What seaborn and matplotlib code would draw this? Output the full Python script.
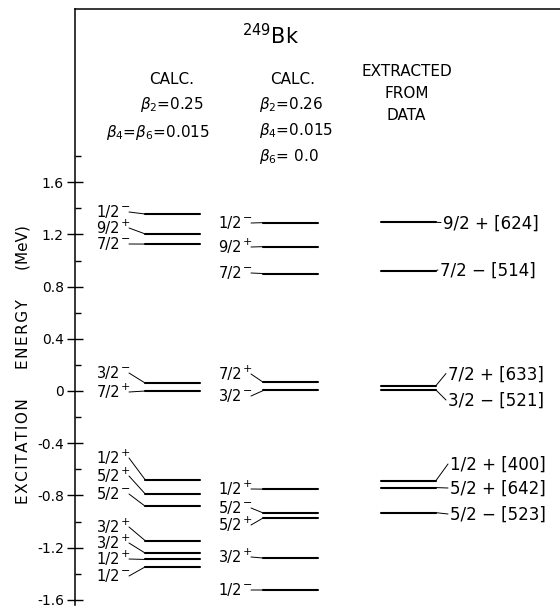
import numpy as np
import pandas as pd
import matplotlib
matplotlib.use("Agg")
import matplotlib.pyplot as plt
import seaborn as sns

# ---------------- data ----------------
# Column 1: CALC. beta2=0.25, beta4=beta6=0.015
calc1_spin = ["1/2", "9/2", "7/2", "3/2", "7/2", "1/2", "5/2", "5/2", "3/2", "3/2", "1/2", "1/2"]
calc1_parity = ["-", "+", "-", "-", "+", "+", "+", "-", "+", "+", "+", "-"]
calc1_energy = [1.356, 1.203, 1.126, 0.060, 0.0, -0.682, -0.790, -0.884, -1.148, -1.243, -1.291, -1.347]

# Column 2: CALC. beta2=0.26, beta4=0.015, beta6=0.0
calc2_spin = ["1/2", "9/2", "7/2", "7/2", "3/2", "1/2", "5/2", "5/2", "3/2", "1/2"]
calc2_parity = ["-", "+", "-", "+", "-", "+", "-", "+", "+", "-"]
calc2_energy = [1.290, 1.106, 0.900, 0.066, 0.004, -0.752, -0.935, -0.972, -1.280, -1.525]

# Column 3: extracted from data
exp_labels = ["9/2 + [624]", "7/2 \u2212 [514]", "7/2 + [633]", "3/2 \u2212 [521]",
              "1/2 + [400]", "5/2 + [642]", "5/2 \u2212 [523]"]
exp_energy = [1.293, 0.922, 0.038, 0.010, -0.690, -0.740, -0.932]

ytick_values = [-1.6, -1.2, -0.8, -0.4, 0.0, 0.4, 0.8, 1.2, 1.6]
ytick_labels = ["-1.6", "-1.2", "-0.8", "-0.4", "0", "0.4", "0.8", "1.2", "1.6"]
yminor_values = [-1.4, -1.0, -0.6, -0.2, 0.2, 0.6, 1.0, 1.4, 1.8]

# ---------------- layout (label placement, in pixels from top) ----------------
calc1_label_px = [212, 228, 244, 373, 392, 458, 476, 494, 527, 543, 559, 576]
calc2_label_px = [223, 247, 273, 374, 396, 489, 508, 525, 557, 590]
exp_label_py = [222.5, 270, 373.5, 400, 464, 488, 514]
exp_label_px = [443, 440, 448, 448, 450, 450, 450]

sns.set_style("ticks")
plt.rcParams["font.family"] = ["DejaVu Sans"]
plt.rcParams["mathtext.fontset"] = "dejavusans"
for k in ["text.color", "axes.labelcolor", "xtick.color", "ytick.color", "axes.edgecolor"]:
    plt.rcParams[k] = "black"

W, H = 560, 614
fig = plt.figure(figsize=(W / 100, H / 100), dpi=100)
ax = fig.add_axes([75 / W, 9 / H, 485 / W, (605 - 8.5) / H])


def px_x(p):
    return (p - 172.5) / 118.0


def px_e(p):
    return (391.0 - p) / 130.5


hw = 0.23  # half width of a level line (column units)

rows = []
lid = 0
for col, energies in enumerate([calc1_energy, calc2_energy, exp_energy]):
    for e in energies:
        rows.append({"x": col - hw, "E": e, "id": lid})
        rows.append({"x": col + hw, "E": e, "id": lid})
        lid += 1
df = pd.DataFrame(rows)

sns.lineplot(data=df, x="x", y="E", units="id", estimator=None, sort=False,
             color="black", linewidth=1.5, ax=ax, legend=False)

ax.set_xlim(px_x(75), px_x(560))
ax.set_ylim(px_e(605), px_e(8.5))
ax.set_xlabel("")
ax.set_ylabel("")
ax.set_xticks([])

lab_fs = 10.5
sign_fs = 8
base_off = 0.365 * lab_fs * 100 / 72 / 130.5
sign_raise = 7.0 / 130.5
lead_kw = dict(color="black", lw=0.7)


def spin_label(spin, par, lp, right_px):
    le = px_e(lp)
    ax.text(px_x(right_px - 7), le - base_off, spin, ha="right", va="baseline", fontsize=lab_fs)
    sign = "+" if par == "+" else "\u2212"
    ax.text(px_x(right_px - 6.5), le - base_off + sign_raise, sign, ha="left", va="baseline",
            fontsize=sign_fs)
    return le


# column 1 labels
for spin, par, e, lp in zip(calc1_spin, calc1_parity, calc1_energy, calc1_label_px):
    le = spin_label(spin, par, lp, 127)
    ax.plot([px_x(129), 0 - hw], [le, e], **lead_kw)

# column 2 labels
for spin, par, e, lp in zip(calc2_spin, calc2_parity, calc2_energy, calc2_label_px):
    le = spin_label(spin, par, lp, 249)
    ax.plot([px_x(251), 1 - hw], [le, e], **lead_kw)

# column 3 labels
exp_fs = 12
exp_off = 0.365 * exp_fs * 100 / 72 / 130.5
for lab, e, lp, lx in zip(exp_labels, exp_energy, exp_label_py, exp_label_px):
    le = px_e(lp)
    ax.text(px_x(lx), le - exp_off, lab, ha="left", va="baseline", fontsize=exp_fs)
    ax.plot([2 + hw, px_x(lx - 2)], [e, le], **lead_kw)

# axes styling
ax.set_yticks(ytick_values)
ax.set_yticklabels(ytick_labels)
ax.set_yticks(yminor_values, minor=True)
ax.tick_params(axis="y", which="major", direction="inout", length=11, width=1.0,
               labelsize=10, pad=2.5, colors="black")
ax.tick_params(axis="y", which="minor", direction="in", length=4, width=1.0, colors="black")
for s in ["right", "bottom"]:
    ax.spines[s].set_visible(False)
for s in ["left", "top"]:
    ax.spines[s].set_linewidth(1.1)
    ax.spines[s].set_color("black")


def ftext(x, y, s, **kw):
    fig.text(x / W, 1 - y / H, s, color="black", **kw)


ftext(271, 36, "$^{249}$Bk", ha="center", va="center", fontsize=15)
ftext(172, 80, "CALC.", ha="center", va="center", fontsize=11)
ftext(172, 105, r"$\beta_2$=0.25", ha="center", va="center", fontsize=11)
ftext(158, 133, r"$\beta_4$=$\beta_6$=0.015", ha="center", va="center", fontsize=11)
ftext(293, 80, "CALC.", ha="center", va="center", fontsize=11)
ftext(259, 105, r"$\beta_2$=0.26", ha="left", va="center", fontsize=11)
ftext(259, 131, r"$\beta_4$=0.015", ha="left", va="center", fontsize=11)
ftext(259, 157, r"$\beta_6$= 0.0", ha="left", va="center", fontsize=11)
ftext(407, 72, "EXTRACTED", ha="center", va="center", fontsize=11)
ftext(407, 94, "FROM", ha="center", va="center", fontsize=11)
ftext(406, 116, "DATA", ha="center", va="center", fontsize=11)

hs = "\u200a"
ylab = hs.join("EXCITATION") + "      " + hs.join("ENERGY") + "      " + "(MeV)"
ftext(23, 365, ylab, rotation=90, ha="center", va="center", fontsize=11)

fig.savefig("out.png", dpi=100)
